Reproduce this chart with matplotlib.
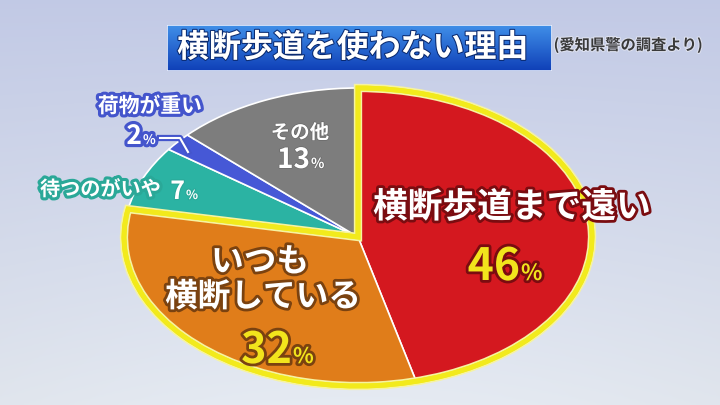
import numpy as np
import matplotlib.pyplot as plt
import matplotlib.patheffects as pe
from matplotlib.patches import Wedge, Rectangle
from matplotlib.lines import Line2D

plt.rcParams['font.family'] = ['Noto Sans CJK JP', 'DejaVu Sans']
plt.rcParams['font.weight'] = 'bold'

W, H = 720, 405

# data
labels = ['横断歩道まで遠い', 'いつも\n横断している', '待つのがいや', '荷物が重い', 'その他']
shares = [46, 32, 7, 2, 13]
colors = ['#d4181f', '#e07d1a', '#2bb3a3', '#4658d6', '#7d7d7d']
title = '横断歩道を使わない理由'
source = '(愛知県警の調査より)'


def fx(px):
    return px / W


def fy(py):
    return 1 - py / H


def label(px, py, s, size, color='white', stroke=None, sw=3.5, **kw):
    eff = [pe.withStroke(linewidth=sw, foreground=stroke)] if stroke else None
    fig.text(fx(px), fy(py), s, fontsize=size, color=color, ha=kw.pop('ha', 'center'),
             va='center', fontweight='bold', path_effects=eff, **kw)


def pct(px, py, num, size, color, stroke=None, sw=3.5):
    # number ends at px, baseline at py, followed by a smaller % sign
    eff = [pe.withStroke(linewidth=sw, foreground=stroke)] if stroke else None
    fig.text(fx(px), fy(py), str(num), fontsize=size, color=color, ha='right',
             va='baseline', fontweight='bold', path_effects=eff)
    fig.text(fx(px + 1), fy(py), '%', fontsize=size * 0.5, color=color, ha='left',
             va='baseline', fontweight='bold', path_effects=eff)


fig = plt.figure(figsize=(7.2, 4.05), dpi=100)

# background gradient
bg = fig.add_axes([0, 0, 1, 1])
bg.axis('off')
t = np.linspace(0, 1, 200)[:, None, None]
s = np.linspace(0, 1, 360)[None, :, None]
top = np.array([0.76, 0.79, 0.90])
bot = np.array([0.88, 0.90, 0.93])
img = top * (1 - t) + bot * t + 0.02 * np.sin(np.pi * s) * t
bg.imshow(np.clip(img, 0, 1), extent=[0, 1, 0, 1], aspect='auto')
bg.set_xlim(0, 1)
bg.set_ylim(0, 1)

# pie, squashed into an ellipse
cx, cy, rx, ry = 358, 237, 234, 149
pad = 1.1
ax = fig.add_axes([fx(cx - pad * rx), fy(cy + pad * ry), 2 * pad * rx / W, 2 * pad * ry / H])
wedges, _ = ax.pie(shares, colors=colors, startangle=90, counterclock=False,
                   wedgeprops=dict(edgecolor='white', linewidth=1.2))
ax.set_aspect('auto')
ax.set_xlim(-pad, pad)
ax.set_ylim(-pad, pad)
frac = sum(shares[:2]) / sum(shares) * 360
ax.add_patch(Wedge((0, 0), 1.0, 90 - frac, 90, fill=False, edgecolor='#f2ea1c', lw=3.5,
                   path_effects=[pe.withStroke(linewidth=6, foreground='#f6f3a0')]))
ax.add_patch(Wedge((0, 0), 1.0, 90 - frac, 90, fill=False, edgecolor='#f2ea1c', lw=3.5))

# title box
tb = fig.add_axes([fx(167), fy(71), (552 - 167) / W, (71 - 25) / H])
tb.axis('off')
g = np.linspace(0, 1, 50)[:, None, None]
blue = np.array([0.25, 0.56, 0.91]) * (1 - g) + np.array([0.06, 0.25, 0.72]) * g
tb.imshow(blue * np.ones((1, 10, 1)), extent=[0, 1, 0, 1], aspect='auto')
tb.add_patch(Rectangle((0, 0), 1, 1, fill=False, edgecolor='#e8eefc', lw=1.2, transform=tb.transAxes))
tb.set_xlim(0, 1)
tb.set_ylim(0, 1)
label(353, 48, title, 23, stroke='#0a2a70', sw=1.5)
label(628, 45, source, 11, color='#3a3a3a', stroke='#dfe2f0', sw=1.5)

# slice labels
label(512, 207, labels[0], 25, stroke='#7a0c10', sw=4)
pct(520, 280, shares[0], 32, '#f2e41c', stroke='#7a0c10', sw=4)
line1, line2 = labels[1].split('\n')
label(260, 262, line1, 23.5, stroke='#7a4210', sw=4)
label(263, 297, line2, 23.5, stroke='#7a4210', sw=4)
pct(292, 363, shares[1], 31, '#f2e41c', stroke='#7a4210', sw=4)
label(40, 189, labels[2], 14.5, stroke='#2aa898', sw=4.5, ha='left')
pct(185, 199, shares[2], 18, 'white', stroke='#2aa898', sw=1.5)
label(150, 106, labels[3], 15, stroke='#4455cc', sw=4.5)
pct(142, 144, shares[3], 19, 'white', stroke='#4455cc', sw=4.5)
label(300, 133, labels[4], 14, stroke='#6a6a6a', sw=1)
pct(310, 168, shares[4], 20, 'white', stroke='#6a6a6a', sw=1)

# leader line for the small slice
fig.add_artist(Line2D([fx(160), fx(180), fx(188)], [fy(138), fy(138), fy(152)],
                      color='white', lw=1.5,
                      path_effects=[pe.withStroke(linewidth=4.5, foreground='#4455cc')]))

fig.savefig('out.png', dpi=100)
